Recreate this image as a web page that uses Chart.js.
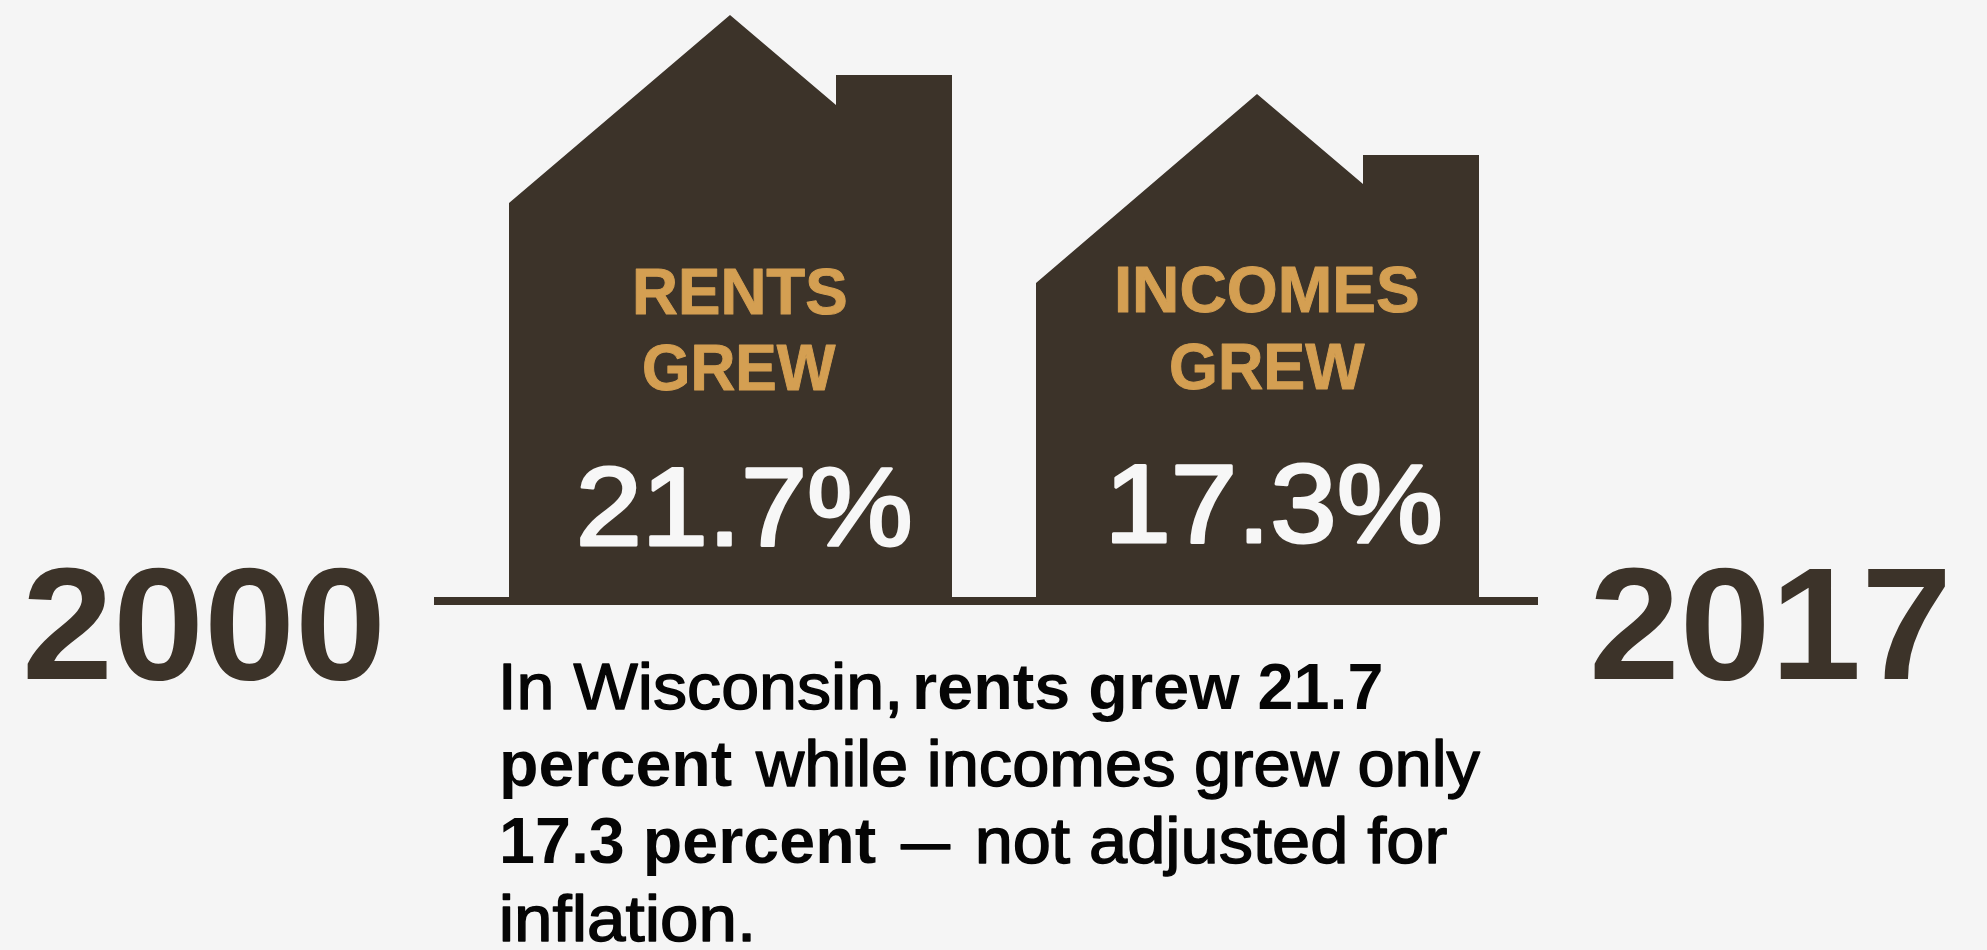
<!DOCTYPE html>
<html>
<head>
<meta charset="utf-8">
<title>Rents and incomes in Wisconsin</title>
<script src="https://cdn.jsdelivr.net/npm/chart.js@4/dist/chart.umd.min.js"></script>
<style>
    html, body { margin: 0; background: #f5f5f5; }
    #wrap { width: 1987px; height: 950px; }
</style>
</head>
<body>
<div id="wrap"><canvas id="chart" width="1987" height="950"></canvas></div>
<script>
// house outlines: height above the ground line
const rentsHouseX    = [509, 509, 730, 836, 836, 952, 952];
const rentsHouseY    = [0, 402, 590, 500, 530, 530, 0];
const incomesHouseX  = [1036, 1036, 1257, 1363, 1363, 1479, 1479];
const incomesHouseY  = [0, 322, 511, 421, 450, 450, 0];
const groundX        = [434, 1538];
const groundY        = [8, 8];

const C = {
    bg:    '#f5f5f5',
    brown: '#3c3329',
    gold:  '#d49f52',
    white: '#f7f7f7',
    black: '#050505',
};

const FONT = "'Liberation Sans', Arial, sans-serif";

// [text, left, right, height above ground of the baseline]
const yearLabels = [
    ['2000', 27, 380, -74],
    ['2017', 1594, 1945, -74],
];
const houseLabels = [
    ['RENTS', 636, 846, 291],
    ['GREW', 644, 836, 215],
    ['INCOMES', 1118, 1418, 293],
    ['GREW', 1171, 1365, 216],
];
const percentLabels = [
    ['21.7%', 581, 909, 60],
    ['17.3%', 1113, 1439, 63],
];
const boldCopy = [
    ['rents grew 21.7', 916, 1381, -104],
    ['percent', 503, 732, -181],
    ['17.3 percent', 503, 876, -258],
];
const plainCopy = [
    ['In Wisconsin,', 503, 898, -104],
    ['while incomes grew only', 755, 1480, -181],
    ['—', 901, 950, -258],
    ['not adjusted for', 979, 1447, -258],
    ['inflation.', 503, 750, -336],
];

function outline(xs, ys) {
    return xs.map((x, i) => ({ x: x, y: ys[i] }));
}

function houseDataset(xs, ys) {
    return {
        data: outline(xs, ys),
        showLine: true,
        borderWidth: 0,
        pointRadius: 0,
        tension: 0,
        fill: 'origin',
        backgroundColor: C.brown,
    };
}

// fits the ink of the text between left and right, so the widths follow the picture
function fitText(chart, row, font, color, thicken) {
    const ctx = chart.ctx;
    const sx = chart.scales.x, sy = chart.scales.y;
    const left = sx.getPixelForValue(row[1]);
    const right = sx.getPixelForValue(row[2]);
    const base = sy.getPixelForValue(row[3]);

    ctx.save();
    ctx.font = font;
    ctx.textBaseline = 'alphabetic';
    ctx.textAlign = 'left';
    const m = ctx.measureText(row[0]);
    const inkLeft = -m.actualBoundingBoxLeft;
    const inkW = m.actualBoundingBoxRight + m.actualBoundingBoxLeft;
    const k = (right - left) / inkW;
    ctx.translate(left - inkLeft * k, base);
    ctx.scale(k, 1);
    ctx.fillStyle = color;
    ctx.fillText(row[0], 0, 0);
    if (thicken) {
        ctx.strokeStyle = color;
        ctx.lineWidth = thicken;
        ctx.lineJoin = 'round';
        ctx.strokeText(row[0], 0, 0);
    }
    ctx.restore();
}

const textPlugin = {
    id: 'houseText',
    afterDatasetsDraw(chart) {
        yearLabels.forEach(r => fitText(chart, r, `bold 160px ${FONT}`, C.brown));
        houseLabels.forEach(r => fitText(chart, r, `bold 64px ${FONT}`, C.gold, 1));
        percentLabels.forEach(r => fitText(chart, r, `112px ${FONT}`, C.white, 3));
        boldCopy.forEach(r => fitText(chart, r, `bold 64px ${FONT}`, C.black));
        plainCopy.forEach(r => fitText(chart, r, `64px ${FONT}`, C.black, 1.4));
    }
};

const bgPlugin = {
    id: 'pageBg',
    beforeDraw(chart) {
        const ctx = chart.ctx;
        ctx.save();
        ctx.fillStyle = C.bg;
        ctx.fillRect(0, 0, chart.width, chart.height);
        ctx.restore();
    }
};

new Chart(document.getElementById('chart'), {
    type: 'scatter',
    data: {
        datasets: [
            houseDataset(rentsHouseX, rentsHouseY),
            houseDataset(incomesHouseX, incomesHouseY),
            houseDataset(groundX, groundY),
        ]
    },
    options: {
        responsive: false,
        animation: false,
        layout: { padding: 0 },
        plugins: { legend: { display: false }, tooltip: { enabled: false } },
        scales: {
            x: { type: 'linear', display: false, min: 0, max: 1987 },
            y: { type: 'linear', display: false, min: -345, max: 605 },
        }
    },
    plugins: [bgPlugin, textPlugin]
});
</script>
</body>
</html>
